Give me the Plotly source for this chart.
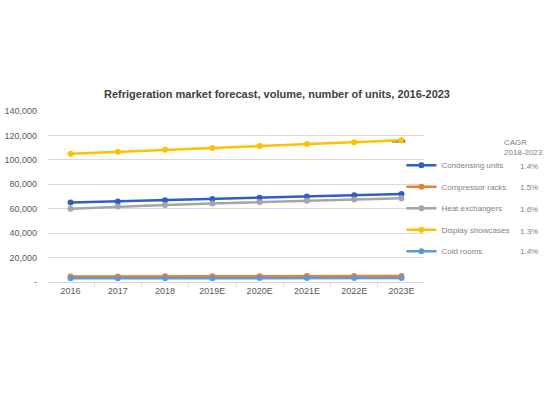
import plotly.graph_objects as go

years = ["2016", "2017", "2018", "2019E", "2020E", "2021E", "2022E", "2023E"]
series_names = ["Condensing units", "Compressor racks", "Heat exchangers", "Display showcases", "Cold rooms"]
condensing = [65000, 66000, 67000, 68000, 69000, 70000, 71000, 72000]
compressor = [4500, 4560, 4630, 4700, 4770, 4840, 4910, 4990]
heat = [60000, 61800, 63000, 64300, 65500, 66500, 67500, 68500]
display = [105000, 106600, 108200, 109800, 111300, 112900, 114500, 116000]
cold = [3000, 3040, 3090, 3130, 3180, 3220, 3270, 3310]
cagr = ["1.4%", "1.5%", "1.6%", "1.3%", "1.4%"]
yticks = [0, 20000, 40000, 60000, 80000, 100000, 120000, 140000]
ytick_text = ["-", "20,000", "40,000", "60,000", "80,000", "100,000", "120,000", "140,000"]
colors = ["#2F5FC4", "#ED7D31", "#A5A5A5", "#FFC000", "#5B9BD5"]

data = [condensing, compressor, heat, display, cold]

fig = go.Figure()
for i, (name, vals, col) in enumerate(zip(series_names, data, colors)):
    fig.add_trace(go.Scatter(
        x=years, y=vals, name=name, mode="lines+markers",
        line=dict(color=col, width=2.5),
        marker=dict(color=col, size=6),
        legendgroup=name,
    ))

font_family = "Liberation Sans, Arial, sans-serif"
fig.update_layout(
    width=554, height=405,
    margin=dict(l=48, r=130, t=111, b=123, autoexpand=False),
    paper_bgcolor="white", plot_bgcolor="white",
    title=dict(text="<b>Refrigeration market forecast, volume, number of units, 2016-2023</b>",
               x=0.5, xanchor="center", y=1 - 94 / 405, yanchor="middle",
               font=dict(family=font_family, size=11, color="#404040")),
    font=dict(family=font_family, size=9, color="#595959"),
    showlegend=True,
    legend=dict(x=0.94, y=0.768, xanchor="left", yanchor="top",
                font=dict(size=8, color="#7F7F7F"),
                tracegroupgap=2.5, traceorder="grouped",
                bgcolor="rgba(0,0,0,0)"),
    xaxis=dict(showgrid=False, showline=True, linecolor="#D9D9D9", linewidth=1,
               ticks="outside", tickson="boundaries", ticklen=4, tickcolor="#D9D9D9",
               tickfont=dict(size=9, color="#595959"), automargin=False),
    yaxis=dict(range=[0, 140000], tickvals=yticks, ticktext=ytick_text,
               showgrid=True, gridcolor="#D9D9D9", gridwidth=1, zeroline=False,
               showline=False, ticks="", ticklabelstandoff=10, automargin=False,
               tickfont=dict(size=9, color="#595959")),
)

# CAGR header and values
fig.add_annotation(text="CAGR<br>2018-2023", xref="paper", yref="paper",
                   x=(502 - 48) / 376, y=(282 - 147) / 171, xanchor="left", yanchor="middle",
                   showarrow=False, align="left", font=dict(size=8, color="#7F7F7F"))
ys_px = [166, 187, 209, 231, 251]
for txt, ypx in zip(cagr, ys_px):
    fig.add_annotation(text=txt, xref="paper", yref="paper",
                       x=(540 - 48) / 376, y=(282 - ypx) / 171, xanchor="right", yanchor="middle",
                       showarrow=False, font=dict(size=8, color="#7F7F7F"))

# small dark marker artifact near last display showcase point
fig.add_shape(type="rect", xref="x", yref="y", x0=6.8, x1=7.08, y0=114300, y1=116300,
              fillcolor="#1F3F6F", line=dict(width=0), layer="below")

fig.write_html("out.html")
